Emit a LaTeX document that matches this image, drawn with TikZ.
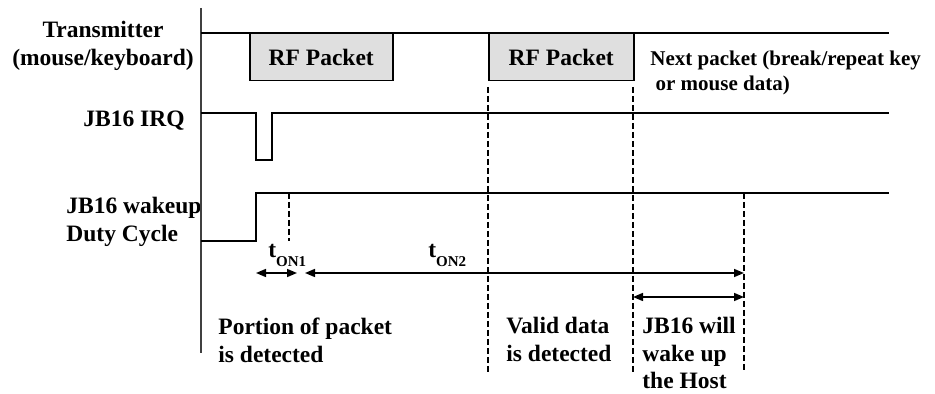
\documentclass[tikz,border=0pt]{standalone}
\usepackage{fontspec}
\setmainfont{Liberation Serif}
\usepackage{tikz}
\usetikzlibrary{arrows.meta}
\usetikzlibrary{positioning}
\usetikzlibrary{calc}
\colorlet{colorSIG}{black}
\colorlet{colorAXIS}{black!75}
\colorlet{colorPKT}{gray!25}
\newcommand{\lbfont}{\fontsize{11.75}{13.75}\selectfont\bfseries}
\newcommand{\smfont}{\fontsize{10.5}{12.5}\selectfont\bfseries}
\newcommand{\tsub}[1]{\raisebox{-4.5pt}{\fontsize{7.5}{9}\selectfont #1}}
\tikzset{
   every path/.style={>={Triangle[length=5pt,width=4pt]}},
   sig/.style={color=colorSIG,line width=0.75pt},
   axis/.style={color=colorAXIS,line width=0.7pt},
   vmark/.style={color=colorSIG,line width=0.7pt,dash pattern=on 3pt off 1.5pt},
   span/.style={<->,color=colorSIG,line width=0.75pt},
   pkt/.style={draw,fill=colorPKT,line width=0.75pt,inner sep=0pt,
     minimum height=23.5pt,font=\lbfont},
   lbl/.style={font=\lbfont,inner sep=0pt},
   sml/.style={font=\smfont,inner sep=0pt},
}

\begin{document}
\begin{tikzpicture}[x=0.5pt, y=-0.5pt]
  \useasboundingbox (0,0) rectangle (935,394);

  %% signal names
  \node[lbl, align=center, anchor=north] (ltx)  at (103, 21)  {Transmitter\\(mouse/keyboard)};
  \node[lbl, anchor=base east]           (lirq) at (185,127)  {JB16 IRQ};
  \node[lbl, align=left, anchor=north west] (lwake) at (66,197) {JB16 wakeup\\Duty Cycle};

  %% packets
  \node[pkt, minimum width=71.5pt, anchor=north west] (pkt1) at (249,33) {RF Packet};
  \node[pkt, minimum width=72.5pt, anchor=north west] (pkt2) at (488,33) {RF Packet};
  \node[sml, align=left, anchor=north west] (lnext) at (650,50.5)
    {Next packet (break/repeat key\\\hspace*{0.25em}or mouse data)};

  %% axis
  \coordinate (atop) at (201,  8);
  \coordinate (abot) at (201,353);
  \draw[axis] (atop) -- (abot);

  %% waveforms
  \draw[sig] (201, 33) -- (889, 33);
  \draw[sig] (201,113) -- (256,113) -- (256,160) -- (272,160) -- (272,113) -- (889,113);
  \draw[sig] (201,241) -- (256,241) -- (256,193) -- (889,193);

  %% time marks
  \coordinate (m1t) at (289,193);  \coordinate (m1b) at (289,241);
  \coordinate (m2t) at (488, 87);  \coordinate (m2b) at (488,373);
  \coordinate (m3t) at (633, 87);  \coordinate (m3b) at (633,373);
  \coordinate (m4t) at (744,193);  \coordinate (m4b) at (744,373);

  \draw[vmark] (m1t) -- (m1b);
  \draw[vmark] (m2t) -- (m2b);
  \draw[vmark] (m3t) -- (m3b);
  \draw[vmark] (m4t) -- (m4b);

  %% spans
  \coordinate (s1a) at (256,273);  \coordinate (s1b) at (297,273);
  \coordinate (s2a) at (305,273);  \coordinate (s2b) at (744,273);
  \coordinate (s3a) at (633,297);  \coordinate (s3b) at (744,297);

  \draw[span] (s1a) -- (s1b);
  \draw[span] (s2a) -- (s2b);
  \draw[span] (s3a) -- (s3b);

  \node[lbl, anchor=base west] (ton1) at (268,258) {t\tsub{ON1}};
  \node[lbl, anchor=base west] (ton2) at (428,258) {t\tsub{ON2}};

  %% notes
  \node[lbl, align=left, anchor=north west] (lport)  at (218,318) {Portion of packet\\is detected};
  \node[lbl, align=left, anchor=north west] (lvalid) at (506,317) {Valid data\\is detected};
  \node[lbl, align=left, anchor=north west] (lhost)  at (642,317) {JB16 will\\wake up\\the Host};
\end{tikzpicture}
\end{document}
